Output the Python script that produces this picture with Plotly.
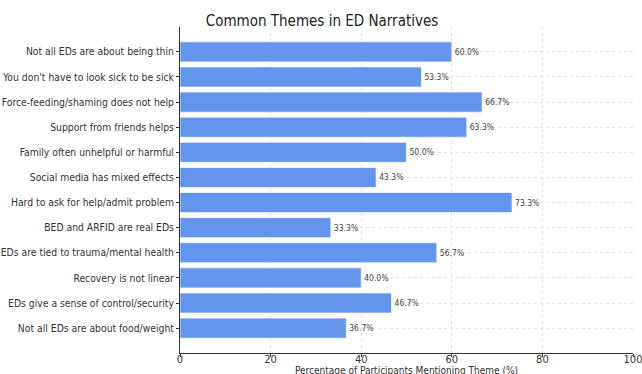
import plotly.graph_objects as go

themes = [
    "Not all EDs are about being thin",
    "You don't have to look sick to be sick",
    "Force-feeding/shaming does not help",
    "Support from friends helps",
    "Family often unhelpful or harmful",
    "Social media has mixed effects",
    "Hard to ask for help/admit problem",
    "BED and ARFID are real EDs",
    "EDs are tied to trauma/mental health",
    "Recovery is not linear",
    "EDs give a sense of control/security",
    "Not all EDs are about food/weight",
]
percentages = [60.0, 53.3, 66.7, 63.3, 50.0, 43.3, 73.3, 33.3, 56.7, 40.0, 46.7, 36.7]
x_ticks = [0, 20, 40, 60, 80, 100]

FONT = "DejaVu Sans Condensed, DejaVu Sans, sans-serif"
n = len(themes)

fig = go.Figure(
    go.Bar(
        x=percentages,
        y=list(range(n)),
        orientation="h",
        width=0.8,
        marker=dict(color="#6495ED", line=dict(color="rgba(255,255,255,0.7)", width=1)),
        text=[f"{v:.1f}%" for v in percentages],
        textposition="outside",
        textfont=dict(family=FONT, size=8.5, color="#444"),
        cliponaxis=False,
    )
)

fig.update_layout(
    width=642,
    height=374,
    margin=dict(l=180, r=9, t=27, b=21),
    paper_bgcolor="white",
    plot_bgcolor="white",
    showlegend=False,
    font=dict(family=FONT, color="#333"),
    title=dict(
        text="Common Themes in ED Narratives",
        x=322 / 642,
        xref="container",
        xanchor="center",
        y=1 - 21 / 374,
        yref="container",
        yanchor="middle",
        font=dict(family=FONT, size=15, color="#222"),
    ),
    xaxis=dict(
        range=[0, 100],
        tickvals=x_ticks,
        ticktext=[str(t) for t in x_ticks],
        ticklabeloverflow="allow",
        ticklabelstandoff=-7,
        showgrid=True,
        gridcolor="#e2e2e2",
        griddash="dot",
        gridwidth=1,
        showline=True,
        linecolor="#333",
        linewidth=1,
        ticks="outside",
        ticklen=3,
        tickcolor="#333",
        tickfont=dict(family=FONT, size=11, color="#333"),
        zeroline=False,
        automargin=False,
    ),
    yaxis=dict(
        range=[n - 1 + 0.99, -0.99],
        tickvals=list(range(n)),
        ticktext=themes,
        showgrid=True,
        gridcolor="#e2e2e2",
        griddash="dot",
        gridwidth=1,
        showline=True,
        linecolor="#333",
        linewidth=1,
        ticks="outside",
        ticklen=3,
        tickcolor="#333",
        tickfont=dict(family=FONT, size=10.3, color="#333"),
        zeroline=False,
        automargin=False,
    ),
    annotations=[
        dict(
            text="Percentage of Participants Mentioning Theme (%)",
            xref="paper",
            x=0.5,
            xanchor="center",
            yref="paper",
            y=-18 / 326,
            yanchor="middle",
            showarrow=False,
            font=dict(family=FONT, size=10, color="#333"),
        )
    ],
)

fig.write_html("out.html")
